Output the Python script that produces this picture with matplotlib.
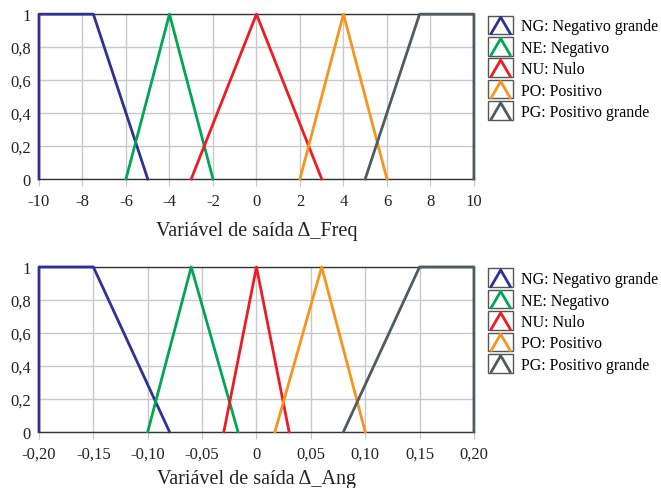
import matplotlib.pyplot as plt
from matplotlib.legend_handler import HandlerBase
from matplotlib.patches import Rectangle
from matplotlib.lines import Line2D

plt.rcParams['font.family'] = ['Liberation Serif', 'DejaVu Serif']

labels = ['NG: Negativo grande', 'NE: Negativo', 'NU: Nulo', 'PO: Positivo', 'PG: Positivo grande']
colors = ['#2e3192', '#00a651', '#ed1c24', '#f7941d', '#4d5b63']

# membership functions, output Delta_Freq
freq_x = [[-10, -10, -7.5, -5], [-6, -4, -2], [-3, 0, 3], [2, 4, 6], [5, 7.5, 10, 10]]
freq_y = [[0, 1, 1, 0], [0, 1, 0], [0, 1, 0], [0, 1, 0], [0, 1, 1, 0]]
freq_ticks = [-10, -8, -6, -4, -2, 0, 2, 4, 6, 8, 10]
freq_ticklabels = ['-10', '-8', '-6', '-4', '-2', '0', '2', '4', '6', '8', '10']

# membership functions, output Delta_Ang
ang_x = [[-0.2, -0.2, -0.15, -0.08], [-0.1, -0.06, -0.017], [-0.03, 0, 0.03],
         [0.017, 0.06, 0.1], [0.08, 0.15, 0.2, 0.2]]
ang_y = [[0, 1, 1, 0], [0, 1, 0], [0, 1, 0], [0, 1, 0], [0, 1, 1, 0]]
ang_ticks = [-0.2, -0.15, -0.1, -0.05, 0, 0.05, 0.1, 0.15, 0.2]
ang_ticklabels = ['-0,20', '-0,15', '-0,10', '-0,05', '0', '0,05', '0,10', '0,15', '0,20']

y_ticks = [0, 0.2, 0.4, 0.6, 0.8, 1]
y_ticklabels = ['0', '0,2', '0,4', '0,6', '0,8', '1']


class TriangleHandler(HandlerBase):
    # little box with an open triangle, like the original legend
    def create_artists(self, legend, orig_handle, xdescent, ydescent,
                       width, height, fontsize, trans):
        c = orig_handle.get_color()
        w = width
        h = height * 1.3
        x0 = -xdescent + (width - w) / 2
        y0 = -ydescent + (height - h) / 2
        box = Rectangle((x0, y0), w, h, fill=False, edgecolor='#555555',
                        lw=1.0, transform=trans)
        tri = Line2D([x0 + 0.12 * w, x0 + 0.5 * w, x0 + 0.88 * w],
                     [y0 + 0.05 * h, y0 + 0.92 * h, y0 + 0.05 * h],
                     color=c, lw=2.0, transform=trans)
        return [box, tri]


def draw(ax, xs, ys, xlim, ticks, ticklabels, xlabel, pad):
    ax.set_xlim(xlim)
    ax.set_ylim(0, 1)
    ax.set_xticks(ticks)
    ax.set_xticklabels(ticklabels, fontsize=12)
    ax.set_yticks(y_ticks)
    ax.set_yticklabels(y_ticklabels, fontsize=12)
    ax.grid(True, color='#c8c8c8', lw=1.0)
    ax.set_axisbelow(True)
    for side in ['left', 'right']:
        ax.spines[side].set_visible(False)
    for side in ['top', 'bottom']:
        ax.spines[side].set_color('#333333')
        ax.spines[side].set_linewidth(1.0)
    ax.tick_params(axis='x', length=5, color='#c8c8c8', pad=5, labelcolor='#222222')
    ax.tick_params(axis='y', length=0, pad=6, labelcolor='#222222')
    handles = []
    for x, y, c in zip(xs, ys, colors):
        h, = ax.plot(x, y, color=c, lw=2.0, clip_on=False, zorder=3)
        handles.append(h)
    ax.set_xlabel(xlabel, fontsize=14.5, color='#222222', labelpad=pad)
    return handles


fig = plt.figure(figsize=(6.61, 4.89), dpi=100)
ax1 = fig.add_axes([0.059, 0.632, 0.658, 0.337])
ax2 = fig.add_axes([0.059, 0.115, 0.658, 0.337])

h1 = draw(ax1, freq_x, freq_y, (-10, 10), freq_ticks, freq_ticklabels,
          'Variável de saída Δ_Freq', 9)
h2 = draw(ax2, ang_x, ang_y, (-0.2, 0.2), ang_ticks, ang_ticklabels,
          'Variável de saída Δ_Ang', 5)

for ax, h in [(ax1, h1), (ax2, h2)]:
    ax.legend(h, labels, handler_map={Line2D: TriangleHandler()},
              loc='upper left', bbox_to_anchor=(1.0, 1.065), frameon=False,
              fontsize=11.5, handlelength=1.55, handleheight=1.0,
              labelspacing=0.3, handletextpad=0.5, borderaxespad=0.5)

plt.savefig('out.png')
